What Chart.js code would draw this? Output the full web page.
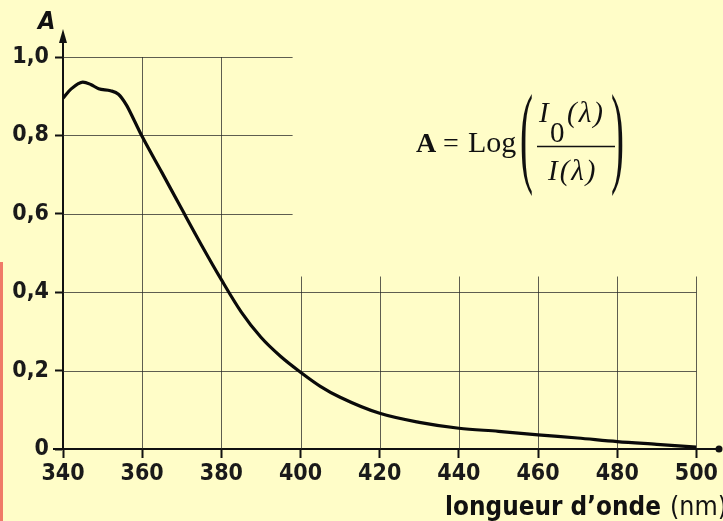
<!DOCTYPE html>
<html>
<head>
<meta charset="utf-8">
<script src="https://cdn.jsdelivr.net/npm/chart.js@4"></script>
<style>
  html, body { margin: 0; padding: 0; background: #fffdc8; }
  #wrap { position: relative; width: 723px; height: 521px; }
</style>
</head>
<body>
<div id="wrap"><canvas id="spectre" width="723" height="521"></canvas></div>
<script>
// absorbance spectrum
var wavelengths = [340, 342, 345, 347, 349, 352, 354, 356, 358, 360, 365, 370, 375, 380, 385, 390, 395, 400, 405, 410, 420, 430, 440, 450, 460, 470, 480, 490, 500];
var absorbance  = [0.895, 0.918, 0.936, 0.930, 0.919, 0.914, 0.905, 0.878, 0.838, 0.797, 0.705, 0.612, 0.520, 0.432, 0.350, 0.285, 0.236, 0.196, 0.160, 0.132, 0.091, 0.068, 0.053, 0.045, 0.036, 0.028, 0.019, 0.012, 0.005];
var xTicks = [340, 360, 380, 400, 420, 440, 460, 480, 500];
var yTicks = [0, 0.2, 0.4, 0.6, 0.8, 1.0];

var sansCond = "'DejaVu Sans Condensed', 'Liberation Sans Narrow', 'DejaVu Sans', sans-serif";
var serif = "'Liberation Serif', 'DejaVu Serif', serif";
var tickFont = { family: sansCond, size: 23, weight: 'bold', lineHeight: 1 };

var points = wavelengths.map(function(w, i) { return { x: w, y: absorbance[i] }; });

// grid lines only where the original figure has them + axis arrows, formula, titles
var decor = {
    id: 'decor',
    beforeDatasetsDraw: function(chart) {
        var c = chart.ctx, xs = chart.scales.x, ys = chart.scales.y;
        c.save();
        c.strokeStyle = 'rgba(40,40,40,0.75)';
        c.lineWidth = 1;
        c.beginPath();
        xTicks.forEach(function(v) {
            if (v === 340) return;
            var px = Math.round(xs.getPixelForValue(v)) + 0.5;
            var top = v < 400 ? ys.getPixelForValue(1.0) : ys.getPixelForValue(0.44);
            c.moveTo(px, top);
            c.lineTo(px, ys.getPixelForValue(0));
        });
        yTicks.forEach(function(v) {
            if (v === 0) return;
            var py = Math.round(ys.getPixelForValue(v)) + 0.5;
            var right = v <= 0.4 ? xs.getPixelForValue(500) : xs.getPixelForValue(398);
            c.moveTo(xs.getPixelForValue(340), py);
            c.lineTo(right, py);
        });
        c.stroke();
        c.restore();
    },
    afterDraw: function(chart) {
        var c = chart.ctx, xs = chart.scales.x, ys = chart.scales.y;
        var x0 = xs.getPixelForValue(340), y0 = ys.getPixelForValue(0);
        c.save();
        c.strokeStyle = '#111';
        c.fillStyle = '#111';
        c.lineWidth = 2;
        // y axis extension + arrow
        c.beginPath();
        c.moveTo(x0, ys.getPixelForValue(1.0));
        c.lineTo(x0, 40);
        c.stroke();
        c.beginPath();
        c.moveTo(x0, 29);
        c.lineTo(x0 - 4, 43);
        c.lineTo(x0 + 4, 43);
        c.closePath();
        c.fill();
        // x axis extension + dot
        c.beginPath();
        c.moveTo(xs.getPixelForValue(500), y0);
        c.lineTo(718, y0);
        c.stroke();
        c.beginPath();
        c.arc(719, y0, 3.5, 0, Math.PI * 2);
        c.fill();
        c.beginPath();
        c.moveTo(x0 - 10, y0);
        c.lineTo(x0, y0);
        c.stroke();

        // axis titles
        c.font = "italic bold 25px " + sansCond;
        c.textBaseline = 'alphabetic';
        c.textAlign = 'left';
        c.fillText('A', 38, 29);

        var title = 'longueur d\u2019onde';
        c.font = "bold 27px " + sansCond;
        var tw = c.measureText(title).width;
        c.save();
        c.translate(445, 515);
        c.scale(216 / tw, 1);
        c.fillText(title, 0, 0);
        c.restore();
        c.font = "26px " + sansCond;
        var nw = c.measureText('(nm)').width;
        c.save();
        c.translate(670, 515);
        c.scale(57 / nw, 1);
        c.fillText('(nm)', 0, 0);
        c.restore();

        // formula A = Log( I0(λ) / I(λ) )
        c.font = "bold 28px " + serif;
        c.fillText('A', 416, 152);
        c.font = "28px " + serif;
        c.fillText('=', 443, 152);
        c.font = "30px " + serif;
        c.fillText('Log', 468, 152);
        c.letterSpacing = '2px';
        c.font = "italic 29px " + serif;
        c.fillText('I', 539, 122);
        c.fillText('(\u03bb)', 567, 122);
        c.fillText('I(\u03bb)', 548, 180);
        c.letterSpacing = '0px';
        c.font = "29px " + serif;
        c.fillText('0', 550, 142);
        c.lineWidth = 1.5;
        c.beginPath();
        c.moveTo(537, 146.5);
        c.lineTo(615, 146.5);
        c.stroke();
        // tall parentheses (stretched glyphs)
        c.font = "26px " + serif;
        c.save();
        c.translate(520, 172);
        c.scale(1.5, 4.3);
        c.fillText('(', 0, 0);
        c.restore();
        c.save();
        c.translate(611, 172);
        c.scale(1.5, 4.3);
        c.fillText(')', 0, 0);
        c.restore();

        // red margin line on the left
        c.fillStyle = '#f07a68';
        c.fillRect(0, 262, 3, 259);
        c.restore();
    }
};

new Chart(document.getElementById('spectre'), {
    type: 'line',
    data: {
        datasets: [{
            data: points,
            borderColor: '#0a0a0a',
            borderWidth: 3.2,
            pointRadius: 0,
            tension: 0.4,
            cubicInterpolationMode: 'monotone',
            fill: false
        }]
    },
    options: {
        responsive: false,
        animation: false,
        events: [],
        layout: { padding: { top: 57, right: 26, left: 0, bottom: 0 } },
        plugins: { legend: { display: false }, tooltip: { enabled: false } },
        scales: {
            x: {
                type: 'linear',
                min: 340,
                max: 500,
                afterBuildTicks: function(s) { s.ticks = xTicks.map(function(v) { return { value: v }; }); },
                afterFit: function(s) { s.height = 72; },
                grid: { display: true, drawOnChartArea: false, drawTicks: true, tickLength: 9, color: '#111', tickWidth: 2 },
                border: { display: true, color: '#111', width: 2 },
                ticks: { color: '#1a1a1a', font: tickFont, padding: 5, maxRotation: 0, autoSkip: false }
            },
            y: {
                min: 0,
                max: 1.0,
                afterBuildTicks: function(s) { s.ticks = yTicks.map(function(v) { return { value: v }; }); },
                afterFit: function(s) { s.width = 63; },
                grid: { display: true, drawOnChartArea: false, drawTicks: true, tickLength: 8, color: '#111', tickWidth: 2 },
                border: { display: true, color: '#111', width: 2 },
                ticks: {
                    color: '#1a1a1a',
                    font: tickFont,
                    padding: 6,
                    callback: function(v) { return v === 0 ? '0' : v.toFixed(1).replace('.', ','); }
                }
            }
        }
    },
    plugins: [decor]
});
</script>
</body>
</html>
